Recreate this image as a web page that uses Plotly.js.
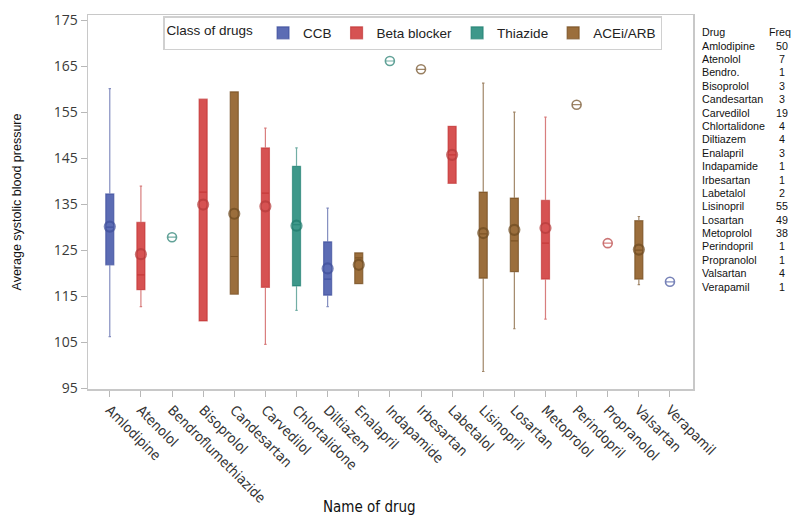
<!DOCTYPE html>
<html>
<head>
<meta charset="utf-8">
<script src="https://cdn.plot.ly/plotly-3.0.1.min.js"></script>
<style>html,body{margin:0;padding:0;background:#fff;}#chart{width:800px;height:523px;}</style>
</head>
<body>
<div id="chart"></div>
<script>
// ---- data ----
const drugs = ['Amlodipine','Atenolol','Bendroflumethiazide','Bisoprolol','Candesartan','Carvedilol','Chlortalidone','Diltiazem','Enalapril','Indapamide','Irbesartan','Labetalol','Lisinopril','Losartan','Metoprolol','Perindopril','Propranolol','Valsartan','Verapamil'];
const drugClass = ['CCB','Beta blocker','Thiazide','Beta blocker','ACEi/ARB','Beta blocker','Thiazide','CCB','ACEi/ARB','Thiazide','ACEi/ARB','Beta blocker','ACEi/ARB','ACEi/ARB','Beta blocker','ACEi/ARB','Beta blocker','ACEi/ARB','CCB'];
const lowerWhisker = [106.2,112.7,127.8,109.6,115.4,104.5,111.9,112.7,117.7,166.1,164.3,139.5,98.6,107.9,110.0,156.6,126.5,117.5,118.1];
const q1 = [121.8,116.4,127.8,109.6,115.4,116.9,117.2,115.2,117.7,166.1,164.3,139.5,118.9,120.3,118.7,156.6,126.5,118.7,118.1];
const median = [130.0,119.6,127.8,137.6,123.6,137.4,130.5,118.7,123.3,166.1,164.3,145.7,128.5,127.0,126.5,156.6,126.5,125.0,118.1];
const q3 = [137.2,131.0,127.8,157.8,159.4,147.2,143.2,126.8,124.4,166.1,164.3,151.9,137.6,136.3,135.8,156.6,126.5,131.4,118.1];
const upperWhisker = [160.1,138.9,127.8,157.8,159.4,151.5,147.2,134.1,124.4,166.1,164.3,151.9,161.3,155.0,153.9,156.6,126.5,132.3,118.1];
const meanSBP = [130.1,124.1,127.8,134.9,132.9,134.5,130.3,121.0,121.8,166.1,164.3,145.7,128.7,129.4,129.8,156.6,126.5,125.1,118.1];
const tableDrugs = ['Amlodipine','Atenolol','Bendro.','Bisoprolol','Candesartan','Carvedilol','Chlortalidone','Diltiazem','Enalapril','Indapamide','Irbesartan','Labetalol','Lisinopril','Losartan','Metoprolol','Perindopril','Propranolol','Valsartan','Verapamil'];
const freq = [50,7,1,3,3,19,4,4,3,1,1,2,55,49,38,1,1,4,1];
const classes = ['CCB','Beta blocker','Thiazide','ACEi/ARB'];
const yTicks = [95,105,115,125,135,145,155,165,175];

// ---- styles ----
const fillCol = {'CCB':'#5c6cb4','Beta blocker':'#d65252','Thiazide':'#3e988a','ACEi/ARB':'#9b6e3c'};
const lineCol = {'CCB':'rgba(50,66,150,0.6)','Beta blocker':'rgba(190,40,40,0.6)','Thiazide':'rgba(20,120,105,0.6)','ACEi/ARB':'rgba(110,70,25,0.65)'};
const meanCol = {'CCB':'#3f4f9a','Beta blocker':'#b53b3b','Thiazide':'#207a6c','ACEi/ARB':'#6e4a20'};

const M = {l:88, r:107, t:15, b:134};
const W = 800, H = 523;
const pw = W - M.l - M.r, ph = H - M.t - M.b;
const px2x = p => (p - M.l) / pw;
const py2y = p => (H - M.b - p) / ph;

const traces = [];
classes.forEach(c => {
  const idx = drugs.map((d,i)=>i).filter(i => drugClass[i] === c);
  traces.push({
    type:'box', name:c, legendgroup:c,
    x: idx.map(i=>drugs[i]),
    q1: idx.map(i=>q1[i]), median: idx.map(i=>median[i]), q3: idx.map(i=>q3[i]),
    lowerfence: idx.map(i=>lowerWhisker[i]), upperfence: idx.map(i=>upperWhisker[i]),
    boxpoints:false, width:0.26, whiskerwidth:0.3,
    fillcolor: fillCol[c], line:{color: lineCol[c], width:1.2},
    hoverinfo:'skip'
  });
});
classes.forEach(c => {
  const idx = drugs.map((d,i)=>i).filter(i => drugClass[i] === c);
  traces.push({
    type:'scatter', mode:'markers', name:c+' mean', legendgroup:c, showlegend:false,
    x: idx.map(i=>drugs[i]), y: idx.map(i=>meanSBP[i]),
    marker:{symbol:'circle-open', size: idx.map(i=> freq[i]===1 ? 9 : 10), color: meanCol[c],
            line:{width: idx.map(i=> freq[i]===1 ? 1.6 : 2.2), color: meanCol[c]}},
    hoverinfo:'skip'
  });
});

const tickFontX = {family:'"Liberation Sans Narrow","DejaVu Sans Condensed","Roboto",sans-serif', size:14, color:'#333'};
const annotations = [];
annotations.push({xref:'paper', yref:'paper', x:px2x(369), y:py2y(507), text:'Name of drug', showarrow:false,
  xanchor:'center', yanchor:'middle', font:{family:tickFontX.family, size:15, color:'#111'}});
const tFont = {family:'"Liberation Sans",Arial,sans-serif', size:10.7, color:'#111'};
annotations.push({xref:'paper', yref:'paper', x:px2x(700), y:py2y(32), text:'Drug', showarrow:false, xanchor:'left', yanchor:'middle', font:tFont});
annotations.push({xref:'paper', yref:'paper', x:px2x(793), y:py2y(32), text:'Freq', showarrow:false, xanchor:'right', yanchor:'middle', font:tFont});
tableDrugs.forEach((d,i) => {
  const yy = 45.5 + i*13.4;
  annotations.push({xref:'paper', yref:'paper', x:px2x(700), y:py2y(yy), text:d, showarrow:false, xanchor:'left', yanchor:'middle', font:tFont});
  annotations.push({xref:'paper', yref:'paper', x:px2x(782), y:py2y(yy), text:String(freq[i]), showarrow:false, xanchor:'center', yanchor:'middle', font:tFont});
});

const layout = {
  width:W, height:H, margin:M, paper_bgcolor:'#fff', plot_bgcolor:'#fff',
  boxmode:'overlay', showlegend:true,
  font:{family:'"Liberation Sans",Arial,sans-serif', color:'#222'},
  xaxis:{type:'category', categoryorder:'array', categoryarray:drugs, range:[-0.7,18.74],
    tickangle:45, ticks:'outside', ticklen:6, tickcolor:'#b8b8b8', showline:true, linecolor:'#c8c8c8', linewidth:1.5,
    mirror:true, showgrid:false, zeroline:false, tickfont:tickFontX},
  yaxis:{range:[94.8,176.1], tickmode:'array', tickvals:yTicks, ticktext:yTicks.map(String),
    ticks:'outside', ticklen:6, tickcolor:'#b8b8b8', showline:true, linecolor:'#c8c8c8', linewidth:1.5,
    mirror:true, showgrid:false, zeroline:false,
    tickfont:{family:'"Open Sans","Liberation Sans",sans-serif', size:14, color:'#3a3a3a'},
    title:{text:'Average systolic blood pressure', standoff:29, font:{family:'"Liberation Sans",Arial,sans-serif', size:12.5, color:'#111'}}},
  legend:{orientation:'h', x:px2x(163), xanchor:'left', y:py2y(16), yanchor:'top',
    bgcolor:'#fff', bordercolor:'#d0d0d0', borderwidth:1.5, itemwidth:30,
    title:{text:'Class of drugs ', side:'left', font:{size:13.5, color:'#222'}},
    font:{family:'"Liberation Sans",Arial,sans-serif', size:13.5, color:'#222'}, itemclick:false, itemdoubleclick:false},
  annotations: annotations
};

Plotly.newPlot('chart', traces, layout, {staticPlot:true, displayModeBar:false});
</script>
</body>
</html>
